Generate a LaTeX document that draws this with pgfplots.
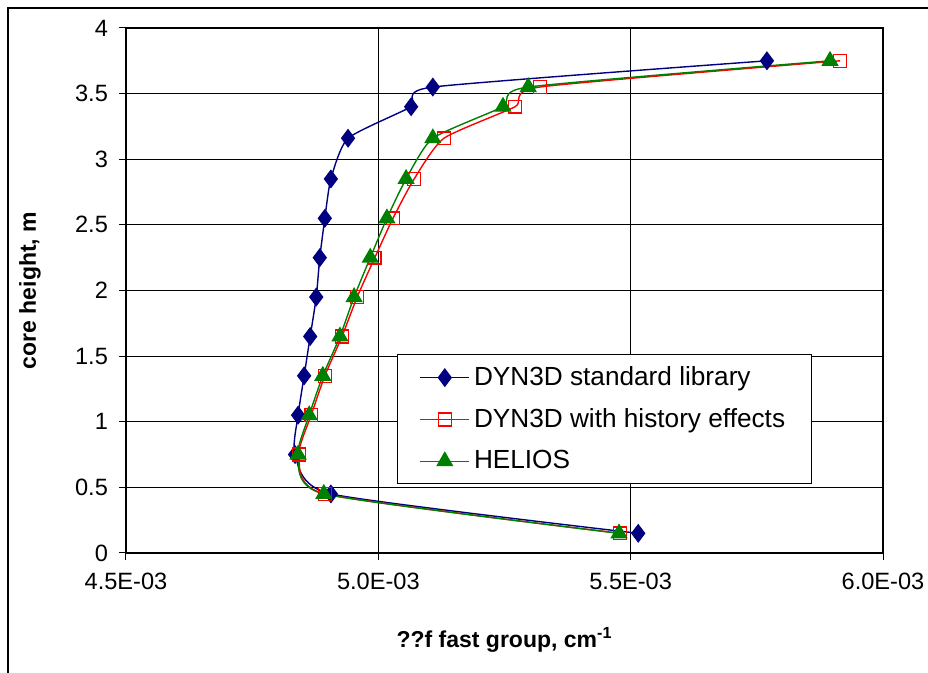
\documentclass[border=0pt]{standalone}
\usepackage{fontspec}
\setmainfont{Liberation Sans}
\usepackage{pgfplots}
\pgfplotsset{compat=1.18}
\definecolor{dblue}{RGB}{0,0,128}
\definecolor{dred}{RGB}{255,0,0}
\definecolor{dgreen}{RGB}{0,128,0}
\begin{document}
\begin{tikzpicture}
\begin{axis}[
  at={(0,0)}, anchor=south west,
  width=378.5pt, height=262.5pt, scale only axis,
  xmin=4.5, xmax=6.0, ymin=0, ymax=4,
  xtick={4.5,5.0,5.5,6.0},
  xticklabels={4.5E-03,5.0E-03,5.5E-03,6.0E-03},
  ytick={0,0.5,1,1.5,2,2.5,3,3.5,4},
  yticklabels={0,0.5,1,1.5,2,2.5,3,3.5,4},
  /pgf/number format/assume math mode=true,
  tick align=outside, major tick length=3.5pt,
  tick style={black, line width=0.5pt},
  xtick pos=bottom, ytick pos=left,
  grid=major,
  major grid style={black, line width=0.5pt},
  axis line style={black, line width=0.6pt},
  ticklabel style={font=\fontsize{11.8}{13}\selectfont},
  xticklabel style={yshift=-3pt},
  yticklabel style={xshift=-2pt},
  xlabel={\bfseries ??f fast group, cm\textsuperscript{-1}},
  ylabel={\bfseries core height, m},
  label style={font=\fontsize{11.5}{13}\selectfont},
  xlabel style={at={(axis description cs:0.5,0)}, anchor=center, yshift=-43.5pt},
  ylabel style={at={(axis description cs:0,0.5)}, anchor=center, xshift=0pt, yshift=48pt},
  legend style={at={(rel axis cs:0.358,0.379)}, anchor=north west,
    font=\fontsize{13.1}{15}\selectfont, draw=black, line width=0.6pt,
    inner xsep=11pt, inner ysep=4pt, row sep=6pt, cells={anchor=west}},
  legend image code/.code={\draw[mark repeat=2,mark phase=2] plot coordinates {(0pt,0pt)(12.25pt,0pt)(24.5pt,0pt)};},
  clip=false,
]
\addplot[dblue, line width=0.7pt, smooth, tension=0.35, mark=diamond*, mark size=4.2pt, mark options={solid, fill=dblue, draw=dblue}] coordinates {
(5.515,0.15) (4.906,0.45) (4.835,0.75) (4.841,1.05) (4.853,1.35) (4.865,1.65) (4.877,1.95) (4.884,2.25) (4.894,2.55) (4.906,2.85) (4.940,3.16) (5.065,3.40) (5.108,3.55) (5.770,3.75)
};
\addlegendentry{DYN3D standard library}
\addplot[dred, line width=0.7pt, smooth, tension=0.35, mark=square, mark size=3.2pt, mark options={solid, fill=none, draw=dred, line width=0.7pt}] coordinates {
(5.479,0.15) (4.894,0.45) (4.843,0.75) (4.867,1.05) (4.894,1.35) (4.928,1.65) (4.958,1.95) (4.993,2.25) (5.029,2.55) (5.071,2.85) (5.130,3.16) (5.271,3.40) (5.320,3.55) (5.915,3.75)
};
\addlegendentry{DYN3D with history effects}
\addplot[dgreen, line width=0.7pt, smooth, tension=0.35, mark=triangle*, mark size=4.3pt, mark options={solid, fill=dgreen, draw=dgreen}] coordinates {
(5.477,0.15) (4.892,0.45) (4.841,0.75) (4.863,1.05) (4.890,1.35) (4.924,1.65) (4.952,1.95) (4.984,2.25) (5.017,2.55) (5.055,2.85) (5.108,3.16) (5.247,3.40) (5.297,3.55) (5.895,3.75)
};
\addlegendentry{HELIOS}
\end{axis}
\draw[black, line width=1pt] (-59pt,-60pt) -- (-59pt,272.5pt) -- (401pt,272.5pt);
\pgfresetboundingbox
\useasboundingbox (-63pt,-60pt) rectangle (401pt,276.5pt);
\end{tikzpicture}
\end{document}
